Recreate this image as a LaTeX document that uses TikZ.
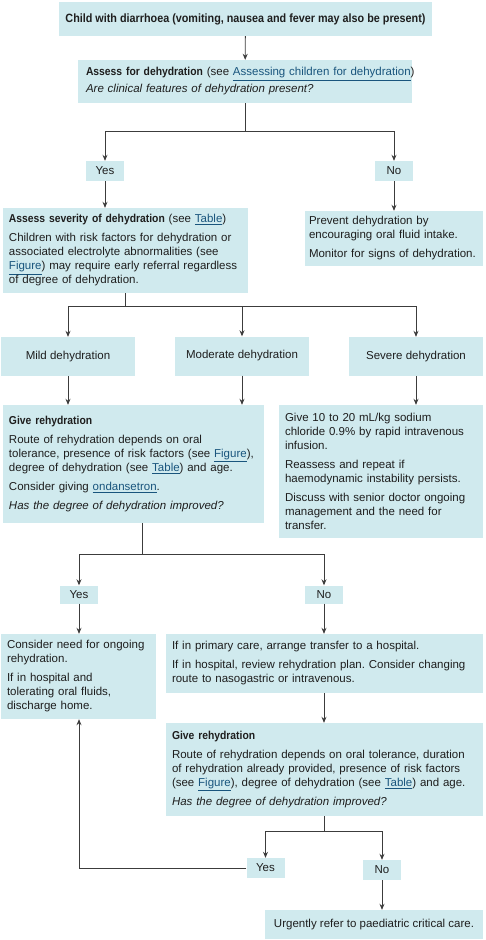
\documentclass[tikz,border=0pt]{standalone}
\usepackage{fontspec}
\setmainfont{Liberation Sans}[BoldFeatures={FakeStretch=0.9}]
\usetikzlibrary{arrows.meta}
\definecolor{boxfill}{RGB}{208,234,238}
\definecolor{lineclr}{RGB}{60,60,60}
\definecolor{txtclr}{RGB}{30,30,30}
\definecolor{linkclr}{RGB}{25,85,125}
\newcommand{\lnk}[1]{\textcolor{linkclr}{\underline{#1}}}
\newcommand{\pgap}{\\[5pt]}
\frenchspacing
\begin{document}
\begin{tikzpicture}[
    x=1pt, y=-1pt,
    every node/.style={text=txtclr, font=\fontsize{11.5}{14}\selectfont},
    box/.style={rectangle, fill=boxfill, inner xsep=6pt, inner ysep=0pt, align=left},
    answer/.style={rectangle, fill=boxfill, inner sep=0pt, minimum width=38pt, minimum height=20pt, align=center},
    grade/.style={rectangle, fill=boxfill, inner sep=0pt, minimum width=134pt, minimum height=39pt, align=center},
    arrow/.style={-{Stealth[length=6pt,width=5pt]}, lineclr, line width=0.8pt},
    line/.style={lineclr, line width=0.8pt}
]
\useasboundingbox (0,0) rectangle (485,940);

% === Top: initial assessment ===
\node[box, minimum width=373pt, minimum height=34pt, align=center, font=\fontsize{12}{14}\selectfont] (start) at (245.5,19)
  {\textbf{Child with diarrhoea (vomiting, nausea and fever may also be present)}};
\node[box, text width=318pt, minimum height=43pt, inner xsep=8pt] (assess) at (245,81.5)
  {\mbox{\textbf{Assess for dehydration} (see \lnk{Assessing children for dehydration})}\\[3pt]
   \textit{Are clinical features of dehydration present?}};

\node[answer] (yes1) at (105,171) {Yes};
\node[answer] (no1) at (394,171) {No};

\node[box, text width=233pt, minimum height=85pt] (severity) at (125.5,250.5)
  {\textbf{Assess severity of dehydration} (see \lnk{Table})\pgap
   Children with risk factors for dehydration or\\
   associated electrolyte abnormalities (see\\
   \lnk{Figure}) may require early referral regardless\\
   of degree of dehydration.};
\node[box, text width=170pt, minimum height=55pt, inner xsep=4pt] (prevent) at (394,238.5)
  {Prevent dehydration by\\
   encouraging oral fluid intake.\pgap
   Monitor for signs of dehydration.};

% === Degree of dehydration ===
\node[grade] (mild) at (68,356.5) {Mild dehydration};
\node[grade] (moderate) at (242,356) {Moderate dehydration};
\node[grade] (severe) at (416,356.5) {Severe dehydration};

\node[box, text width=249pt, minimum height=118pt] (give1) at (133.5,464)
  {\textbf{Give rehydration}\pgap
   Route of rehydration depends on oral\\
   tolerance, presence of risk factors (see \lnk{Figure}),\\
   degree of dehydration (see \lnk{Table}) and age.\pgap
   Consider giving \lnk{ondansetron}.\pgap
   \textit{Has the degree of dehydration improved?}};
\node[box, text width=192pt, minimum height=133pt] (bolus) at (381,471.5)
  {Give 10 to 20 mL/kg sodium\\
   chloride 0.9\% by rapid intravenous\\
   infusion.\pgap
   Reassess and repeat if\\
   haemodynamic instability persists.\pgap
   Discuss with senior doctor ongoing\\
   management and the need for\\
   transfer.};

% === Response to first rehydration ===
\node[answer, minimum height=18pt] (yes2) at (79,594.5) {Yes};
\node[answer, minimum height=18pt] (no2) at (324,594.5) {No};

\node[box, text width=143pt, minimum height=85pt] (ongoing) at (78.5,676.5)
  {Consider need for ongoing\\
   rehydration.\pgap
   If in hospital and\\
   tolerating oral fluids,\\
   discharge home.};
\node[box, text width=305pt, minimum height=59pt] (transfer) at (324.5,663.5)
  {If in primary care, arrange transfer to a hospital.\pgap
   If in hospital, review rehydration plan. Consider changing\\
   route to nasogastric or intravenous.};
\node[box, text width=305pt, minimum height=93pt] (give2) at (324.5,769.5)
  {\textbf{Give rehydration}\pgap
   Route of rehydration depends on oral tolerance, duration\\
   of rehydration already provided, presence of risk factors\\
   (see \lnk{Figure}), degree of dehydration (see \lnk{Table}) and age.\pgap
   \textit{Has the degree of dehydration improved?}};

\node[answer] (yes3) at (265.5,868) {Yes};
\node[answer] (no3) at (382,870) {No};
\node[box, minimum width=218pt, minimum height=29pt, align=center] (critical) at (374,924.5)
  {Urgently refer to paediatric critical care.};

% Split points
\coordinate (split1) at (245,131);
\coordinate (split2) at (125,306);
\coordinate (split3) at (142,554);
\coordinate (split4) at (324,831);

% Arrows
\draw[arrow] (start) -- (assess);
\draw[line] (assess.south -| split1) -- (split1);
\draw[arrow] (split1) -| (yes1);
\draw[arrow] (split1) -| (no1);
\draw[arrow] (yes1) -- (yes1 |- severity.north);
\draw[arrow] (no1) -- (no1 |- prevent.north);

\draw[line] (severity.south -| split2) -- (split2);
\draw[arrow] (split2) -| (mild);
\draw[arrow] (split2) -| (moderate);
\draw[arrow] (split2) -| (severe);
\draw[arrow] (mild) -- (mild |- give1.north);
\draw[arrow] (moderate) -- (moderate |- give1.north);
\draw[arrow] (severe) -- (severe |- bolus.north);

\draw[line] (give1.south -| split3) -- (split3);
\draw[arrow] (split3) -| (yes2);
\draw[arrow] (split3) -| (no2);
\draw[arrow] (yes2) -- (yes2 |- ongoing.north);
\draw[arrow] (no2) -- (no2 |- transfer.north);
\draw[arrow] (transfer.south -| no2) -- (no2 |- give2.north);

\draw[line] (give2.south -| split4) -- (split4);
\draw[arrow] (split4) -| (yes3);
\draw[arrow] (split4) -| (no3);
\draw[arrow] (no3) -- (no3 |- critical.north);

% Loop back to ongoing rehydration
\draw[arrow] (yes3.west) -| (yes2 |- ongoing.south);

\end{tikzpicture}
\end{document}
